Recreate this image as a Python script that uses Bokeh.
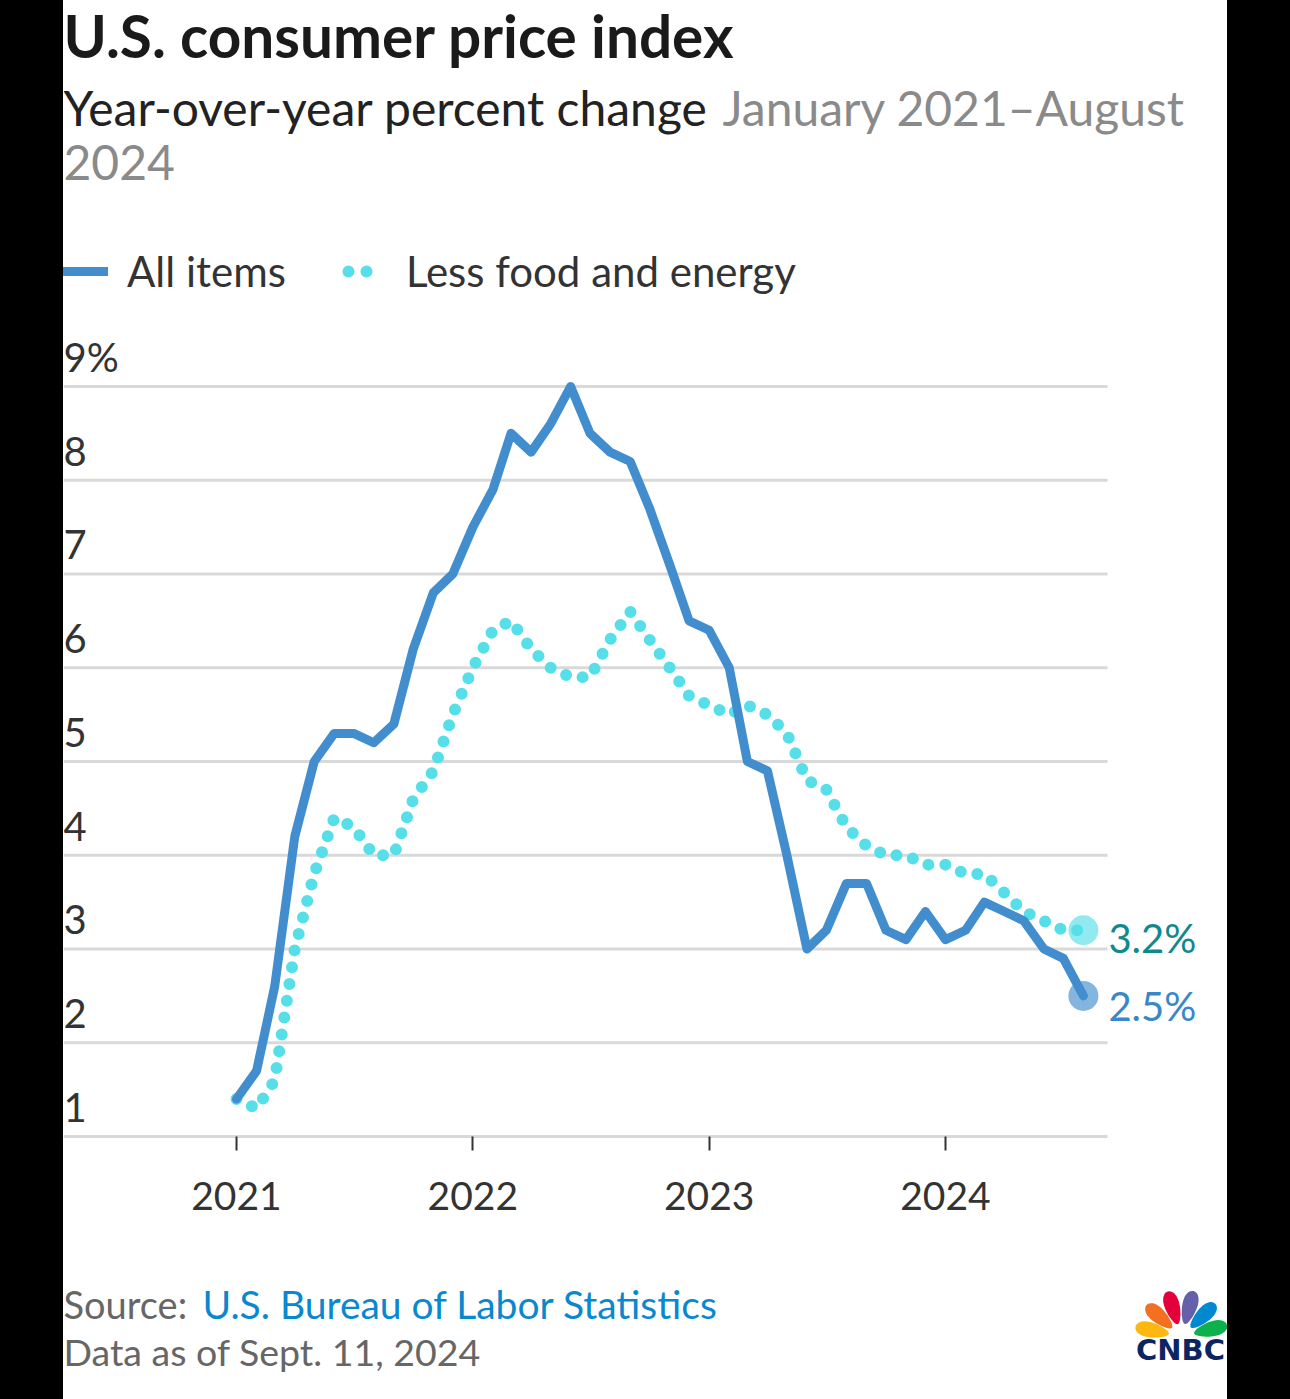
import numpy as np
import pandas as pd
from bokeh.plotting import figure
from bokeh.models import (Range1d, FixedTicker, DatetimeTickFormatter, Label, Legend,
                          LegendItem, PolyAnnotation, Div, ColumnDataSource)
from bokeh.layouts import row
from bokeh.core.properties import value
from bokeh.embed import file_html
from bokeh.resources import INLINE

# ---------------- data ----------------
period = ["2021-01", "2021-02", "2021-03", "2021-04", "2021-05", "2021-06",
          "2021-07", "2021-08", "2021-09", "2021-10", "2021-11", "2021-12",
          "2022-01", "2022-02", "2022-03", "2022-04", "2022-05", "2022-06",
          "2022-07", "2022-08", "2022-09", "2022-10", "2022-11", "2022-12",
          "2023-01", "2023-02", "2023-03", "2023-04", "2023-05", "2023-06",
          "2023-07", "2023-08", "2023-09", "2023-10", "2023-11", "2023-12",
          "2024-01", "2024-02", "2024-03", "2024-04", "2024-05", "2024-06",
          "2024-07", "2024-08"]
all_items = [1.4, 1.7, 2.6, 4.2, 5.0, 5.3, 5.3, 5.2, 5.4, 6.2, 6.8, 7.0,
             7.5, 7.9, 8.5, 8.3, 8.6, 9.0, 8.5, 8.3, 8.2, 7.7, 7.1, 6.5,
             6.4, 6.0, 5.0, 4.9, 4.0, 3.0, 3.2, 3.7, 3.7, 3.2, 3.1, 3.4,
             3.1, 3.2, 3.5, 3.4, 3.3, 3.0, 2.9, 2.5]
less_food_energy = [1.4, 1.3, 1.6, 3.0, 3.8, 4.4, 4.3, 4.0, 4.0, 4.6, 4.9, 5.5,
                    6.0, 6.4, 6.5, 6.2, 6.0, 5.9, 5.9, 6.3, 6.6, 6.3, 6.0, 5.7,
                    5.6, 5.5, 5.6, 5.5, 5.3, 4.8, 4.7, 4.3, 4.1, 4.0, 4.0, 3.9,
                    3.9, 3.8, 3.8, 3.6, 3.4, 3.3, 3.2, 3.2]
series_names = ["All items", "Less food and energy"]
year_ticks = ["2021-01-01", "2022-01-01", "2023-01-01", "2024-01-01"]
y_ticks = [1, 2, 3, 4, 5, 6, 7, 8, 9]
y_tick_labels = ["1", "2", "3", "4", "5", "6", "7", "8", "9%"]

# ---------------- styling / layout helpers ----------------
BLUE = "#428dce"
CYAN = "#57dfe9"
FONT = "Lato"
GRID = "#d9d9d9"
W, H = 1164, 1399          # figure occupies page x 63..1227
LEFT = 63

t0 = pd.Timestamp("2021-01-01").value / 1e6
t3 = pd.Timestamp("2024-01-01").value / 1e6
S = (t3 - t0) / (945 - 236)          # ms per page pixel
PXU = 93.75                           # pixels per percentage point


def X(px):
    return t0 + (px - 236) * S


def Y(py):
    return 1 + (1136 - py) / PXU


def up(size):  # baseline correction for rendered text (pixels -> data units)
    return 0.38 * size / PXU


dates = pd.to_datetime(period)
src = ColumnDataSource(dict(date=dates, all=all_items, core=less_food_energy))

p = figure(width=W, height=H, x_axis_type="datetime",
           x_range=Range1d(X(LEFT), X(LEFT + W)), y_range=Range1d(Y(H), Y(0)),
           y_axis_location=None, toolbar_location=None, output_backend="svg",
           min_border=0, outline_line_color=None, title=None,
           background_fill_color="white", border_fill_color="white")
p.grid.visible = False

# horizontal grid lines (end at the axis' right end)
gx0, gx1 = X(LEFT), X(1107)
p.segment(x0=[gx0] * (len(y_ticks) - 1), x1=[gx1] * (len(y_ticks) - 1),
          y0=y_ticks[1:], y1=y_ticks[1:], line_color=GRID, line_width=3)

# x axis, fixed at the 1% line
xa = p.xaxis[0]
xa.fixed_location = y_ticks[0]
xa.ticker = FixedTicker(ticks=[pd.Timestamp(t).value / 1e6 for t in year_ticks])
xa.formatter = DatetimeTickFormatter(years="%Y", months="%Y", days="%Y", hours="%Y",
                                     minutes="%Y", seconds="%Y")
xa.bounds = (gx0, gx1)
xa.axis_line_color = GRID
xa.axis_line_width = 3
xa.major_tick_line_color = "#333333"
xa.major_tick_line_width = 2
xa.major_tick_out = 14
xa.major_tick_in = 0
xa.minor_tick_line_color = None
xa.major_label_text_font = FONT
xa.major_label_text_font_size = "39px"
xa.major_label_text_color = "#333333"
xa.major_label_standoff = 31

# y tick labels sitting above grid lines
YL = 40
p.text(x=[X(LEFT)] * len(y_ticks), y=[v + 14 / PXU + up(YL) for v in y_ticks],
       text=y_tick_labels, text_font=value(FONT), text_font_size=f"{YL}px",
       text_color="#333333", text_baseline="alphabetic", text_align="left")

# series
r_core = p.line("date", "core", source=src, line_color=CYAN, line_width=12,
                line_dash="0 17", line_cap="round")
r_all = p.line("date", "all", source=src, line_color=BLUE, line_width=9,
               line_join="round", line_cap="round")

# end markers
EL = 40
end_vals = [less_food_energy[-1], all_items[-1]]
end_src = ColumnDataSource(dict(
    date=[dates[-1], dates[-1]], val=end_vals,
    ty=[end_vals[0] - 23 / PXU + up(EL), end_vals[1] - 25 / PXU + up(EL)],
    fill=[CYAN, BLUE], tcolor=["#10898b", "#3a86c8"],
    label=[f"{v:.1f}%" for v in end_vals]))
p.scatter("date", "val", source=end_src, size=30, fill_color="fill",
          fill_alpha=0.65, line_color=None)
p.text("date", "ty", text="label", source=end_src, x_offset=25,
       text_font=value(FONT), text_font_size=f"{EL}px", text_color="tcolor",
       text_baseline="alphabetic", text_align="left")

# legend key for the dotted series: an undrawn (NaN) proxy showing two dots
r_core_key = p.line(x=[dates[0], dates[1]], y=[np.nan, np.nan], line_color=CYAN,
                    line_width=12, line_dash="0 18 0 60", line_dash_offset=-6,
                    line_cap="round")
LG_TOP, LG_H = 240, 62
legend = Legend(items=[LegendItem(label=series_names[0], renderers=[r_all]),
                       LegendItem(label=series_names[1], renderers=[r_core_key])],
                location=(0, H - LG_TOP - LG_H), orientation="horizontal",
                glyph_width=45, glyph_height=LG_H, label_standoff=19, spacing=56,
                padding=0, margin=0, background_fill_alpha=0, border_line_color=None,
                label_text_font=FONT, label_text_font_size="42px",
                label_text_color="#333333")
p.add_layout(legend)


def add_label(px, py, text, size, color, bold=False, align="left", font=FONT):
    p.add_layout(Label(x=X(px), y=Y(py) + up(size), text=text, text_font=font,
                       text_font_size=f"{size}px", text_color=color,
                       text_font_style="bold" if bold else "normal",
                       text_align=align, text_baseline="alphabetic"))


add_label(63, 57, "U.S. consumer price index", 58.5, "#1a1a1a", bold=True)
add_label(63, 125, "Year-over-year percent change", 48, "#222222")
add_label(722, 125, "January 2021\u2013August", 48, "#8a8a8a")
add_label(63, 180, "2024", 48, "#8a8a8a")
add_label(63, 1318, "Source:", 38, "#666666")
add_label(202, 1318, "U.S. Bureau of Labor Statistics", 39, "#0a88cf")
add_label(63, 1365, "Data as of Sept. 11, 2024", 37.5, "#666666")

# CNBC peacock logo (decorative)
cx, cy = 1181, 1336
feathers = [(168, "#fcb711"), (138, "#f37021"), (107, "#e4003b"),
            (75, "#6460aa"), (44, "#0089d0"), (14, "#0db14b")]
tt = np.linspace(0, 2 * np.pi, 40)
for ang, col in feathers:
    a = np.deg2rad(ang)
    d, ra, rb = 30, 17, 9.5
    ex = d + ra * np.cos(tt)
    ey = rb * np.sin(tt) * (0.55 + 0.45 * (1 + np.cos(tt)) / 2)
    pxs = cx + ex * np.cos(a) - ey * np.sin(a)
    pys = cy - (ex * np.sin(a) + ey * np.cos(a))
    p.add_layout(PolyAnnotation(xs=[X(v) for v in pxs], ys=[Y(v) for v in pys],
                                fill_color=col, fill_alpha=1.0, line_color=None))
add_label(1180, 1361, "CNBC", 29, "#0c2461", bold=True, align="center",
          font="DejaVu Sans")

left_pad = Div(width=LEFT, height=H, margin=0, styles={"background-color": "black"})
right_pad = Div(width=1290 - LEFT - W, height=H, margin=0,
                styles={"background-color": "black"})
layout = row(left_pad, p, right_pad, spacing=0)

open("out.html", "w").write(file_html(layout, INLINE))
